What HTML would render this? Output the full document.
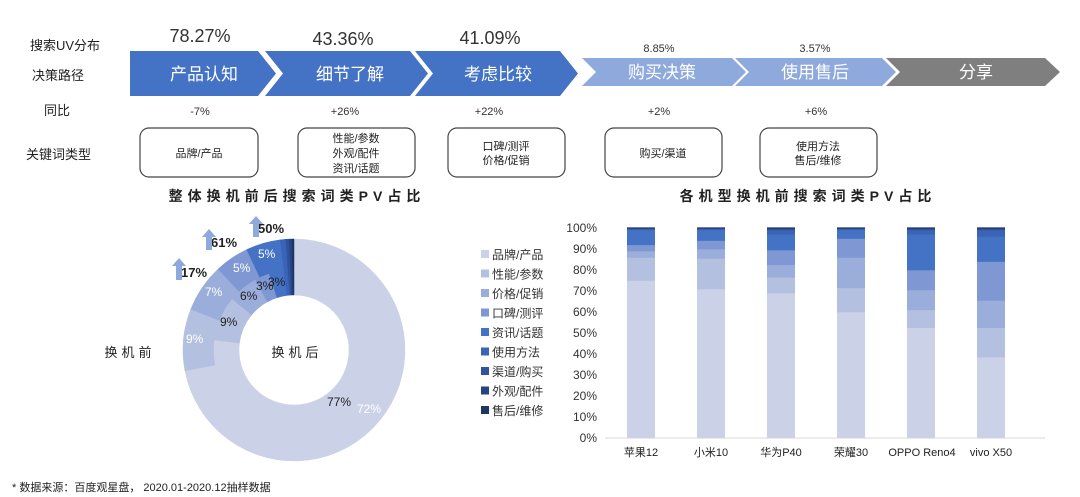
<!DOCTYPE html><html><head><meta charset="utf-8"><style>body{margin:0;background:#fff}svg{display:block;font-family:"Liberation Sans","Noto Sans CJK SC",sans-serif}</style></head><body>
<svg width="1080" height="497" viewBox="0 0 1080 497" xmlns="http://www.w3.org/2000/svg">
<g font-size="13" fill="#222">
<text x="30" y="50">搜索UV分布</text><text x="32" y="80">决策路径</text><text x="44" y="115">同比</text><text x="26" y="159">关键词类型</text>
</g>
<polygon points="130,51 258,51 276,73.5 258,96 130,96" fill="#4472C4"/>
<polygon points="265,51 410,51 428,73.5 410,96 265,96 283,73.5" fill="#4472C4"/>
<polygon points="415,51 560,51 578,73.5 560,96 415,96 433,73.5" fill="#4472C4"/>
<polygon points="582,58 732,58 746,72 732,86 582,86 596,72" fill="#8EA9DB"/>
<polygon points="735,58 882,58 896,72 882,86 735,86 749,72" fill="#8EA9DB"/>
<polygon points="886,58 1045,58 1060,72 1045,86 886,86 900,72" fill="#7F7F7F"/>
<g fill="#fff" font-size="17" text-anchor="middle"><text x="204" y="80">产品认知</text><text x="350" y="80">细节了解</text><text x="498" y="80">考虑比较</text><text x="662" y="78">购买决策</text><text x="815" y="78">使用售后</text><text x="976" y="78">分享</text></g>
<g fill="#333" font-size="18" text-anchor="middle"><text x="200" y="42">78.27%</text><text x="343" y="45">43.36%</text><text x="490" y="44">41.09%</text></g>
<g fill="#333" font-size="11" text-anchor="middle"><text x="659" y="52">8.85%</text><text x="815" y="52">3.57%</text>
<text x="200" y="115">-7%</text><text x="345" y="115">+26%</text><text x="489" y="115">+22%</text><text x="659" y="115">+2%</text><text x="816" y="115">+6%</text></g>
<g fill="none" stroke="#444" stroke-width="1.2"><rect x="140" y="128" width="118" height="49" rx="9"/><rect x="298" y="128" width="117" height="49" rx="9"/><rect x="448" y="128" width="117" height="49" rx="9"/><rect x="605" y="128" width="117" height="49" rx="9"/><rect x="760" y="128" width="117" height="49" rx="9"/></g>
<g fill="#222" font-size="11" text-anchor="middle">
<text x="199" y="157">品牌/产品</text>
<text x="356" y="142">性能/参数</text><text x="356" y="157">外观/配件</text><text x="356" y="172">资讯/话题</text>
<text x="506" y="150">口碑/测评</text><text x="506" y="164">价格/促销</text>
<text x="663" y="157">购买/渠道</text>
<text x="818" y="150">使用方法</text><text x="818" y="164">售后/维修</text></g>
<g font-size="14" font-weight="bold" fill="#222" text-anchor="middle" letter-spacing="5"><text x="297" y="201">整体换机前后搜索词类PV占比</text><text x="808" y="201">各机型换机前搜索词类PV占比</text></g>
<g id="donut"></g>
<text x="130" y="357" font-size="13" fill="#222" text-anchor="middle" letter-spacing="4">换机前</text>
<text x="297" y="357" font-size="13" fill="#222" text-anchor="middle" letter-spacing="4">换机后</text>
<g font-size="12"><text x="186" y="343" fill="#fff">9%</text><text x="205" y="296" fill="#fff">7%</text><text x="233" y="272" fill="#fff">5%</text><text x="258" y="258" fill="#fff">5%</text><text x="357" y="413" fill="#fff">72%</text>
<text x="220" y="326" fill="#222">9%</text><text x="240" y="300" fill="#222">6%</text><text x="256" y="290" fill="#222">3%</text><text x="268" y="286" fill="#222">3%</text><text x="327" y="406" fill="#222">77%</text></g>
<g font-size="13" font-weight="bold" fill="#222"><text x="181" y="277">17%</text><text x="211" y="247">61%</text><text x="258" y="233">50%</text></g>
<g fill="#8EA9DB"><polygon points="172,266 179,258 186,266 182,266 182,280 176,280 176,266"/><polygon points="202,237 209,229 216,237 212,237 212,250 206,250 206,237"/><polygon points="249,224 256,216 263,224 259,224 259,237 253,237 253,224"/></g>
<g font-size="12" fill="#333" text-anchor="end"><text x="597" y="232">100%</text><text x="597" y="253">90%</text><text x="597" y="274">80%</text><text x="597" y="295">70%</text><text x="597" y="316">60%</text><text x="597" y="337">50%</text><text x="597" y="358">40%</text><text x="597" y="379">30%</text><text x="597" y="400">20%</text><text x="597" y="421">10%</text><text x="597" y="442">0%</text></g>
<line x1="605" y1="438" x2="1045" y2="438" stroke="#d9d9d9"/>
<g id="bars"></g>
<g font-size="11" fill="#222" text-anchor="middle"><text x="641" y="456">苹果12</text><text x="711" y="456">小米10</text><text x="781" y="456">华为P40</text><text x="851" y="456">荣耀30</text><text x="922" y="456">OPPO Reno4</text><text x="991" y="456">vivo X50</text></g>
<g id="legend" font-size="12" fill="#333"></g>
<text x="12" y="491" font-size="11" fill="#222">* 数据来源：百度观星盘， 2020.01-2020.12抽样数据</text>
</svg>
<script>
const C=["#CBD2E8","#B4C0E0","#9BADDA","#7F97D2","#4472C4","#3A64B8","#2F539F","#264384","#1F3564"];
const ns="http://www.w3.org/2000/svg";
function el(p,t,a){const e=document.createElementNS(ns,t);for(const k in a)e.setAttribute(k,a[k]);p.appendChild(e);return e;}
const cx=294,cy=350;
function arc(g,r0,r1,a0,a1,f){const p=(r,a)=>[cx+r*Math.sin(a*Math.PI/180),cy-r*Math.cos(a*Math.PI/180)];const l=a1-a0>180?1:0;const[a,b]=p(r1,a0),[c,d]=p(r1,a1),[e,f2]=p(r0,a1),[g2,h]=p(r0,a0);
el(g,"path",{d:`M${a},${b}A${r1},${r1} 0 ${l} 1 ${c},${d}L${e},${f2}A${r0},${r0} 0 ${l} 0 ${g2},${h}Z`,fill:f,stroke:f,"stroke-width":0.5});}
const dg=document.getElementById("donut");
function ring(vals,r0,r1){let a=0;vals.forEach((v,i)=>{arc(dg,r0,r1,a,a+v*3.6,C[i]);a+=v*3.6;});}
ring([72,9,7,5,5,0.8,0.5,0.4,0.3],80,111);
ring([77,9,6,3,3,0.8,0.5,0.4,0.3],55,80);
const bg=document.getElementById("bars");
const data=[[75,11,3,3,7,0.5,0.3,0.2],[71,14.5,4.5,4,5,0.5,0.3,0.2],[69,7.5,6,7,7.5,2,0.5,0.5],[60,11.5,14.5,9,4,0.5,0.3,0.2],[52.5,8.5,9.5,9.5,17,2,0.5,0.5],[38.5,14,13,18.5,12,3,0.5,0.5]];
const y0=438,h=210;
data.forEach((d,i)=>{const x=627+i*70;let acc=0;const sum=d.reduce((a,b)=>a+b,0);d.push(Math.max(100-sum,0.3));d.forEach((v,j)=>{el(bg,"rect",{x:x,y:y0-(acc+v)*h/100,width:28,height:v*h/100+0.3,fill:C[j]});acc+=v;});});
const lg=document.getElementById("legend");
["品牌/产品","性能/参数","价格/促销","口碑/测评","资讯/话题","使用方法","渠道/购买","外观/配件","售后/维修"].forEach((t,i)=>{const y=255+i*19.5;el(lg,"rect",{x:481,y:y-5,width:8,height:8,fill:C[i]});const tx=el(lg,"text",{x:492,y:y+4});tx.textContent=t;});
</script>
</body></html>
